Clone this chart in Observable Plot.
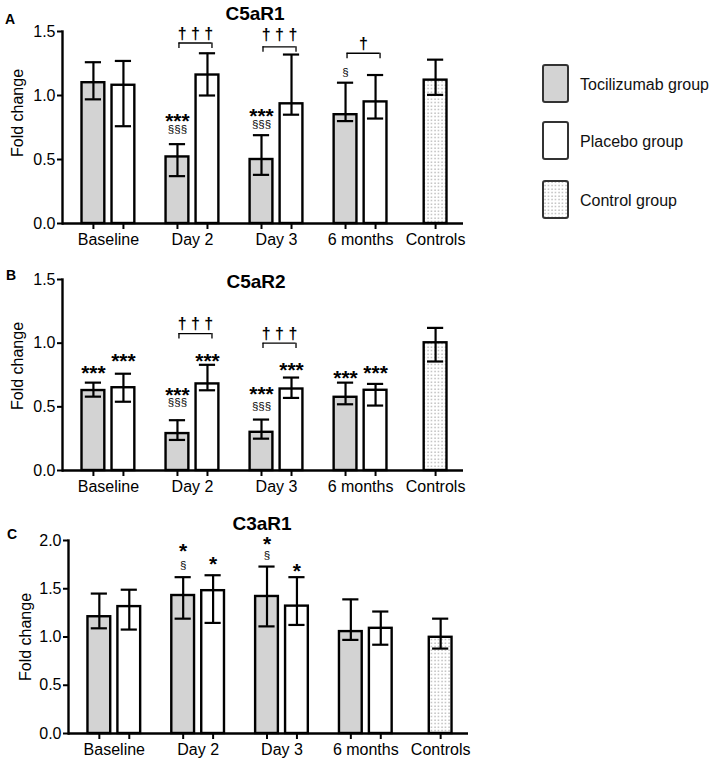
<!DOCTYPE html>
<html><head><meta charset="utf-8">
<script src="https://cdn.jsdelivr.net/npm/d3@7"></script>
<script src="https://cdn.jsdelivr.net/npm/@observablehq/plot@0.6"></script>
<style>
body{margin:0;background:#fff;font-family:"Liberation Sans",Arial,sans-serif;}
#root{position:relative;width:722px;height:765px;overflow:hidden;background:#fff;}
#root svg{position:absolute;overflow:visible;}
.abs{position:absolute;white-space:nowrap;color:#000;line-height:1;}
.letter{font-weight:bold;font-size:14px;transform:translate(-50%,-50%);}
.title{font-weight:bold;font-size:19px;transform:translate(-50%,-50%);}
.ylab{font-size:16px;transform:translate(-50%,-50%) rotate(-90deg);}
</style></head><body><div id="root"></div>
<script>
const categories = ["Baseline", "Day 2", "Day 3", "6 months", "Controls"];
const groupNames = ["Tocilizumab group", "Placebo group", "Control group"];

// C5aR1 (Tocilizumab / Placebo for Baseline, Day 2, Day 3, 6 months)
const c5ar1Toci   = [1.10, 0.52, 0.50, 0.85];
const c5ar1TociHi = [1.26, 0.62, 0.69, 1.10];
const c5ar1TociLo = [0.97, 0.37, 0.38, 0.80];
const c5ar1Plac   = [1.08, 1.16, 0.935, 0.95];
const c5ar1PlacHi = [1.27, 1.33, 1.32, 1.16];
const c5ar1PlacLo = [0.76, 1.00, 0.85, 0.82];
const c5ar1Ctrl = [1.12, 1.28, 1.005];            // mean, upper, lower
const c5ar1Notes = [["Day 2", 0, "***", 0.84], ["Day 2", 0, "§§§", 0.735],
                    ["Day 3", 0, "***", 0.88], ["Day 3", 0, "§§§", 0.775],
                    ["6 months", 0, "§", 1.18]];
const c5ar1Brackets = [["Day 2", 1.41, 1.48, "† † †"], ["Day 3", 1.38, 1.475, "† † †"], ["6 months", 1.33, 1.40, "†"]];

// C5aR2
const c5ar2Toci   = [0.628, 0.29, 0.30, 0.575];
const c5ar2TociHi = [0.69, 0.395, 0.40, 0.69];
const c5ar2TociLo = [0.58, 0.24, 0.25, 0.52];
const c5ar2Plac   = [0.65, 0.68, 0.64, 0.63];
const c5ar2PlacHi = [0.76, 0.83, 0.73, 0.68];
const c5ar2PlacLo = [0.54, 0.63, 0.57, 0.51];
const c5ar2Ctrl = [1.003, 1.12, 0.856];
const c5ar2Notes = [["Baseline", 0, "***", 0.80], ["Baseline", 1, "***", 0.90],
                    ["Day 2", 0, "***", 0.63], ["Day 2", 0, "§§§", 0.535], ["Day 2", 1, "***", 0.90],
                    ["Day 3", 0, "***", 0.64], ["Day 3", 0, "§§§", 0.505], ["Day 3", 1, "***", 0.825],
                    ["6 months", 0, "***", 0.76], ["6 months", 1, "***", 0.80]];
const c5ar2Brackets = [["Day 2", 1.075, 1.155, "† † †"], ["Day 3", 1.0, 1.075, "† † †"]];

// C3aR1
const c3ar1Toci   = [1.21, 1.43, 1.42, 1.056];
const c3ar1TociHi = [1.45, 1.62, 1.73, 1.39];
const c3ar1TociLo = [1.09, 1.19, 1.11, 0.97];
const c3ar1Plac   = [1.315, 1.48, 1.32, 1.09];
const c3ar1PlacHi = [1.49, 1.64, 1.62, 1.264];
const c3ar1PlacLo = [1.077, 1.146, 1.125, 0.92];
const c3ar1Ctrl = [0.997, 1.19, 0.88];
const c3ar1Notes = [["Day 2", 0, "*", 1.94], ["Day 2", 0, "§", 1.74], ["Day 2", 1, "*", 1.81],
                    ["Day 3", 0, "*", 2.01], ["Day 3", 0, "§", 1.845], ["Day 3", 1, "*", 1.73]];
const c3ar1Brackets = [];

const yTicksA = [0, 0.5, 1.0, 1.5];
const yTicksC = [0, 0.5, 1.0, 1.5, 2.0];

// ---------- layout helpers ----------
const pitch = 2.8;
const ci = c => categories.indexOf(c);
const xOf = (i, g) => g === 2 ? (categories.length - 2) * pitch + 3 : i * pitch + g;
const labelX = categories.map((c, i) => i < categories.length - 1 ? i * pitch + 0.5 : xOf(i, 2));
const labelMap = new Map(labelX.map((x, i) => [x, categories[i]]));
const root = document.getElementById("root");
const FONT = "'Liberation Sans', Arial, sans-serif";

function panel(o) {
  const rows = [];
  for (let i = 0; i < 4; i++) {
    rows.push({g: 0, x: xOf(i, 0), mean: o.toci[i], hi: o.tociHi[i], lo: o.tociLo[i]});
    rows.push({g: 1, x: xOf(i, 1), mean: o.plac[i], hi: o.placHi[i], lo: o.placLo[i]});
  }
  rows.push({g: 2, x: xOf(4, 2), mean: o.ctrl[0], hi: o.ctrl[1], lo: o.ctrl[2]});
  const hw = 0.38, cap = 0.27;
  const fills = ["#d3d3d3", "#ffffff", `url(#dots-${o.id})`];
  const notes = o.notes.map(([c, g, t, y]) => ({x: xOf(ci(c), g), t, y}));
  const stars = notes.filter(d => d.t.includes("*"));
  const sects = notes.filter(d => d.t.includes("§"));
  const br = o.brackets.map(([c, y, ty, t]) => ({x1: xOf(ci(c), 0) + 0.05, x2: xOf(ci(c), 1) + 0.15, y, ty, t}));
  const drop = o.yMax * 0.028;
  const svg = Plot.plot({
    width: o.width, height: o.height,
    marginLeft: o.marginLeft, marginRight: o.width - o.frameRight, marginTop: 31, marginBottom: 32,
    style: {fontFamily: FONT, fontSize: "16px", color: "#000", background: "transparent", overflow: "visible"},
    x: {type: "linear", domain: [-1.03, 12.33]},
    y: {domain: [0, o.yMax]},
    marks: [
      ...[0, 1, 2].map(g => Plot.rect(rows.filter(d => d.g === g), {
        x1: d => d.x - hw, x2: d => d.x + hw, y1: 0, y2: "mean",
        fill: fills[g], stroke: "#000", strokeWidth: 2.4})),
      Plot.ruleX(rows, {x: "x", y1: "lo", y2: "hi", stroke: "#000", strokeWidth: 2.2}),
      Plot.ruleY(rows, {y: "hi", x1: d => d.x - cap, x2: d => d.x + cap, stroke: "#000", strokeWidth: 2.2}),
      Plot.ruleY(rows, {y: "lo", x1: d => d.x - cap, x2: d => d.x + cap, stroke: "#000", strokeWidth: 2.2}),
      Plot.ruleY([0], {stroke: "#000", strokeWidth: 2.4}),
      Plot.frame({anchor: "left", stroke: "#000", strokeWidth: 2.4}),
      Plot.axisY({ticks: o.yTicks, tickFormat: d3.format(".1f"), tickSize: 5, tickPadding: 2, fontSize: 16, label: null, strokeWidth: 2}),
      Plot.axisX({ticks: rows.map(d => d.x), tickSize: 6, tickFormat: () => "", label: null, strokeWidth: 2}),
      Plot.axisX({ticks: labelX, tickSize: 0, tickPadding: 10, tickFormat: d => labelMap.get(d), fontSize: 16, label: null}),
      Plot.ruleY(br, {y: "y", x1: "x1", x2: "x2", stroke: "#000", strokeWidth: 1.3}),
      Plot.ruleX(br, {x: "x1", y1: "y", y2: d => d.y - drop, stroke: "#000", strokeWidth: 1.3}),
      Plot.ruleX(br, {x: "x2", y1: "y", y2: d => d.y - drop, stroke: "#000", strokeWidth: 1.3}),
      Plot.text(br, {x: d => (d.x1 + d.x2) / 2, y: "ty", text: "t", fontSize: 16, fontWeight: "bold", fill: "#000"}),
      Plot.text(stars, {x: "x", y: "y", text: "t", fontSize: 21, fontWeight: "bold", dy: 5, fill: "#000"}),
      Plot.text(sects, {x: "x", y: "y", text: "t", fontSize: 11.5, fill: "#000"})
    ]
  });
  const defs = d3.select(svg).insert("defs", ":first-child");
  const pat = defs.append("pattern").attr("id", `dots-${o.id}`).attr("patternUnits", "userSpaceOnUse")
    .attr("width", 3.5).attr("height", 3.5);
  pat.append("rect").attr("width", 3.5).attr("height", 3.5).attr("fill", "#fff");
  pat.append("circle").attr("cx", 1).attr("cy", 1).attr("r", 0.65).attr("fill", "#8a8a8a");
  svg.style.left = "0px";
  svg.style.top = o.top + "px";
  root.appendChild(svg);
  const add = (cls, text, x, y) => {
    const d = document.createElement("div");
    d.className = "abs " + cls; d.textContent = text;
    d.style.left = x + "px"; d.style.top = y + "px";
    root.appendChild(d);
  };
  add("letter", o.letter, o.letterPos[0], o.letterPos[1]);
  add("title", o.title, o.titlePos[0], o.titlePos[1]);
  add("ylab", "Fold change", o.ylabPos[0], o.ylabPos[1]);
}

panel({id: "a", top: 0, width: 480, height: 255, marginLeft: 62, frameRight: 463, yMax: 1.5, yTicks: yTicksA,
  toci: c5ar1Toci, tociHi: c5ar1TociHi, tociLo: c5ar1TociLo, plac: c5ar1Plac, placHi: c5ar1PlacHi, placLo: c5ar1PlacLo,
  ctrl: c5ar1Ctrl, notes: c5ar1Notes, brackets: c5ar1Brackets,
  letter: "A", letterPos: [10, 19], title: "C5aR1", titlePos: [255, 13], ylabPos: [18, 113]});

panel({id: "b", top: 248, width: 480, height: 254, marginLeft: 62, frameRight: 463, yMax: 1.5, yTicks: yTicksA,
  toci: c5ar2Toci, tociHi: c5ar2TociHi, tociLo: c5ar2TociLo, plac: c5ar2Plac, placHi: c5ar2PlacHi, placLo: c5ar2PlacLo,
  ctrl: c5ar2Ctrl, notes: c5ar2Notes, brackets: c5ar2Brackets,
  letter: "B", letterPos: [11, 275], title: "C5aR2", titlePos: [256, 281], ylabPos: [18, 366]});

panel({id: "c", top: 509, width: 480, height: 256, marginLeft: 68, frameRight: 468, yMax: 2.0, yTicks: yTicksC,
  toci: c3ar1Toci, tociHi: c3ar1TociHi, tociLo: c3ar1TociLo, plac: c3ar1Plac, placHi: c3ar1PlacHi, placLo: c3ar1PlacLo,
  ctrl: c3ar1Ctrl, notes: c3ar1Notes, brackets: c3ar1Brackets,
  letter: "C", letterPos: [12, 534], title: "C3aR1", titlePos: [262, 523], ylabPos: [26, 637]});

// ---------- legend ----------
const leg = d3.select(root).append("svg").attr("width", 190).attr("height", 180)
  .style("left", "530px").style("top", "55px");
const ldefs = leg.append("defs").append("pattern").attr("id", "dots-leg").attr("patternUnits", "userSpaceOnUse")
  .attr("width", 3.5).attr("height", 3.5);
ldefs.append("rect").attr("width", 3.5).attr("height", 3.5).attr("fill", "#fff");
ldefs.append("circle").attr("cx", 1).attr("cy", 1).attr("r", 0.65).attr("fill", "#8a8a8a");
const legFills = ["#d3d3d3", "#ffffff", "url(#dots-leg)"];
const legTops = [10, 67, 126];
groupNames.forEach((name, i) => {
  leg.append("rect").attr("x", 13).attr("y", legTops[i]).attr("width", 25).attr("height", 37)
    .attr("rx", 2).attr("fill", legFills[i]).attr("stroke", "#333").attr("stroke-width", 2);
  leg.append("text").attr("x", 50).attr("y", legTops[i] + 19).attr("dy", "0.35em")
    .attr("font-family", FONT).attr("font-size", 16).attr("fill", "#111").text(name);
});
</script></body></html>
